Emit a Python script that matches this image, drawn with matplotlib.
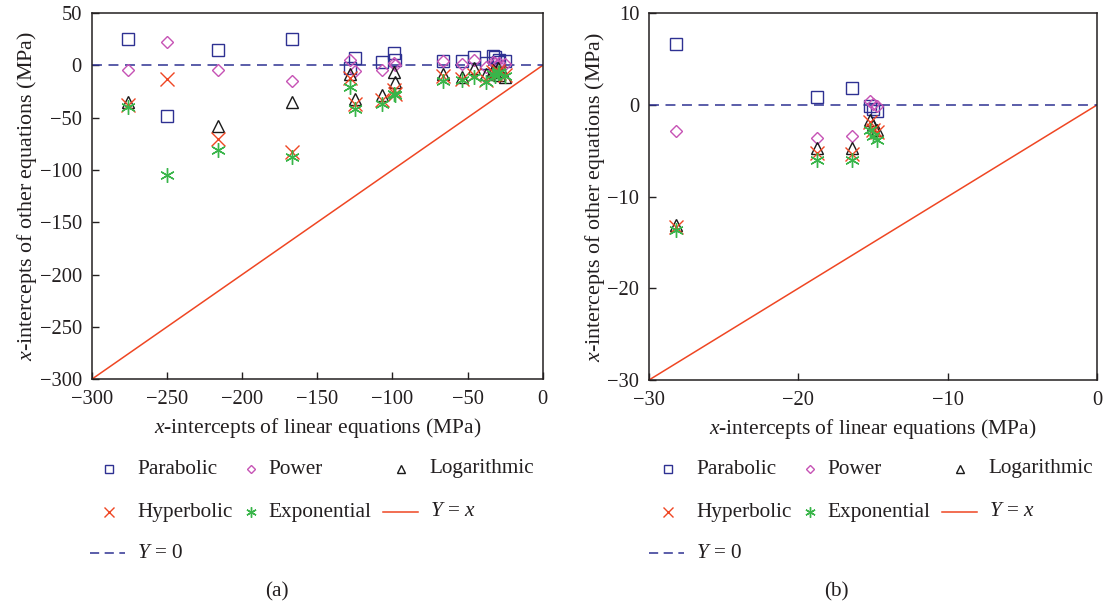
import numpy as np
import matplotlib
matplotlib.use("Agg")
import matplotlib.pyplot as plt
from matplotlib.lines import Line2D

plt.rcParams['font.family'] = ['Liberation Serif', 'DejaVu Serif']
plt.rcParams['mathtext.fontset'] = 'custom'
plt.rcParams['mathtext.rm'] = 'Liberation Serif'
plt.rcParams['mathtext.it'] = 'Liberation Serif:italic'
plt.rcParams['axes.unicode_minus'] = True

nan = np.nan
# ---------------- Panel (a) data ----------------
xa = [-276, -250, -216, -167, -128, -125, -107, -99, -98.5, -66, -54, -46, -38, -33, -32, -30, -29, -25]
par_a = [25, -48, 15, 25, -3, 7, 3, 12, 5, 4, 4, 8, 2, 9, 8, 3, 5, 4]
pow_a = [-4, 22, -4, -15, 5, -5, -4, 2, 0, 4, 1, 5, -2, 3, 2, 0, 2, 1]
log_a = [-35, nan, -58, -35, -8, -32, -28, -6, -16, -8, -11, -3, -8, -4, -6, -3, -9, -11]
hyp_a = [-38, -13, -70, -83, -12, -37, -33, -24, -27, -10, -13, -9, -14, -6, -8, -5, -7, -9]
exp_a = [-40, -105, -81, -88, -21, -42, -37, -27, -28, -15, -14, -11, -16, -8, -10, -7, -6, -10]

# ---------------- Panel (b) data ----------------
xb = [-28.2, -18.75, -16.4, -15.2, -15.0, -14.7]
par_b = [6.67, 0.83, 1.86, -0.15, -0.4, -0.7]
pow_b = [-2.8, -3.6, -3.4, 0.4, 0.1, -0.1]
log_b = [-13.1, -4.7, -4.7, -1.6, -2.15, -2.7]
hyp_b = [-13.3, -5.2, -5.4, -1.9, -2.7, -3.0]
exp_b = [-13.6, -6.0, -6.0, -2.7, -3.4, -3.8]

xticks_a = [-300, -250, -200, -150, -100, -50, 0]
yticks_a = [50, 0, -50, -100, -150, -200, -250, -300]
xticks_b = [-30, -20, -10, 0]
yticks_b = [10, 0, -10, -20, -30]

labels = ['Parabolic', 'Power', 'Logarithmic', 'Hyperbolic', 'Exponential']
C_BLUE = '#2e3192'
C_MAG = '#c653b5'
C_BLACK = '#1a1a1a'
C_RED = '#ef4623'
C_GREEN = '#39b54a'
TXT = '#231f20'
ASTER = (6, 2, 0)

styles = [
    dict(marker='s', ms=8.6, mfc='none', mec=C_BLUE, mew=1.0),
    dict(marker='D', ms=6.4, mfc='none', mec=C_MAG, mew=1.0),
    dict(marker='^', ms=8.6, mfc='none', mec=C_BLACK, mew=1.0),
    dict(marker='x', ms=9.5, mfc='none', mec=C_RED, mew=1.0),
    dict(marker=ASTER, ms=10.5, mfc='none', mec=C_GREEN, mew=1.0),
]
leg_styles = [
    dict(marker='s', ms=5.8, mfc='none', mec=C_BLUE, mew=1.0),
    dict(marker='D', ms=4.0, mfc='none', mec=C_MAG, mew=1.0),
    dict(marker='^', ms=5.8, mfc='none', mec=C_BLACK, mew=1.0),
    dict(marker='x', ms=6.5, mfc='none', mec=C_RED, mew=1.0),
    dict(marker=ASTER, ms=7.5, mfc='none', mec=C_GREEN, mew=1.0),
]

W, H = 1105, 612
fig = plt.figure(figsize=(W / 100, H / 100), dpi=100)

def px_rect(l, r, t, b):
    return [l / W, 1 - b / H, (r - l) / W, (b - t) / H]

ax_a = fig.add_axes(px_rect(91.7, 542.7, 13, 379.3))
ax_b = fig.add_axes(px_rect(649, 1097, 13.3, 380))

def draw(ax, x, series, lim, xt, yt, ylpad):
    lo, hi_y = lim
    ax.plot([lo, 0], [lo, 0], color=C_RED, lw=1.1, zorder=2)
    ax.axhline(0, color=C_BLUE, lw=1.1, ls=(0, (6.5, 4.3)), zorder=2)
    for vals, st in zip(series, styles):
        ax.plot(x, vals, ls='none', zorder=3, **st)
    ax.set_xlim(lo, 0)
    ax.set_ylim(lo, hi_y)
    ax.set_xticks(xt)
    ax.set_yticks(yt)
    ax.tick_params(direction='in', length=5, width=1.0, labelsize=14.8,
                   colors=TXT, labelcolor=TXT)
    ax.tick_params(axis='x', pad=8)
    ax.tick_params(axis='y', pad=7)
    for s in ax.spines.values():
        s.set_linewidth(1.1)
        s.set_color(TXT)
    ax.set_xlabel('$x$-intercepts of linear equations (MPa)', fontsize=15.5, color=TXT, labelpad=5)
    ax.set_ylabel('$x$-intercepts of other equations (MPa)', fontsize=15.8, color=TXT, labelpad=ylpad)

draw(ax_a, xa, [par_a, pow_a, log_a, hyp_a, exp_a], (-300, 50), xticks_a, yticks_a, 0.5)
draw(ax_b, xb, [par_b, pow_b, log_b, hyp_b, exp_b], (-30, 10), xticks_b, yticks_b, 0.0)

def fx(p):
    return p / W

def fy(p):
    return 1 - p / H

def legend_block(dx, cap):
    entries = [
        (109, 137, 469, 0), (251, 268, 469, 1), (401, 429, 469, 2),
        (109, 137, 512, 3), (251, 268, 512, 4),
    ]
    for mx, tx, ry, i in entries:
        fig.add_artist(Line2D([fx(mx + dx)], [fy(ry)], ls='none',
                              transform=fig.transFigure, **leg_styles[i]))
        fig.text(fx(tx + dx), fy(ry), labels[i], fontsize=15.3, color=TXT,
                 ha='left', va='center')
    fig.add_artist(Line2D([fx(383 + dx), fx(418 + dx)], [fy(512), fy(512)],
                          color=C_RED, lw=1.1, transform=fig.transFigure))
    fig.text(fx(430 + dx), fy(512), '$Y$ = $x$', fontsize=15.3, color=TXT,
             ha='left', va='center')
    fig.add_artist(Line2D([fx(90 + dx), fx(125 + dx)], [fy(553), fy(553)],
                          color=C_BLUE, lw=1.1, ls=(0, (6.0, 3.6)),
                          transform=fig.transFigure))
    fig.text(fx(137 + dx), fy(553), '$Y$ = 0', fontsize=15.3, color=TXT,
             ha='left', va='center')
    fig.text(fx(277 + dx), fy(592), cap, fontsize=15.3, color=TXT,
             ha='center', va='center')

legend_block(0, '(a)')
legend_block(559, '(b)')

fig.savefig('out.png', dpi=100)
